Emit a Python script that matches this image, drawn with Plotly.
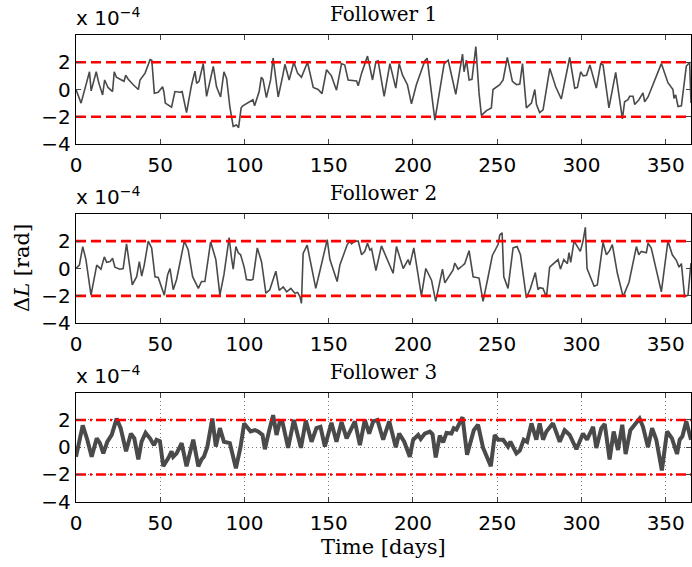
import plotly.graph_objects as go

# Follower 1 (values in units of 1e-4 rad)
f1_days = [0, 3, 8, 9, 12, 13.6, 15.8, 17, 19, 21.7, 22.7, 24, 27, 28.5, 29.5, 31, 34, 37, 38, 41, 44, 45,
           46.5, 48.8, 51.4, 52.2, 53, 56.7, 58.7, 61.7, 63, 65.6, 68.6, 70.6, 71.6, 73, 75.5, 77.5, 81.5,
           83.4, 85.8, 87.8, 89.4, 91.3, 93.3, 95.3, 96.5, 98, 99, 102, 105, 106, 108.7, 110, 111, 113,
           115.5, 117, 120, 122.6, 124, 126.5, 129.3, 131.5, 133.8, 137.4, 140.8, 143.7, 146, 148.7, 151.6,
           154.6, 157.6, 159.5, 161.5, 166.5, 167.5, 169.5, 173, 176, 178, 179.3, 182.9, 186.3, 189.8,
           191.8, 193.8, 196.7, 199.1, 202, 203, 204, 207, 208.4, 213, 215.3, 218.5, 220.9, 225.4, 229.4,
           230.3, 231.7, 233.3, 235, 237.3, 239.2, 240.6, 243.6, 246.5, 247.5, 251.5, 253.5, 256, 259,
           261.4, 263.4, 265, 267.3, 270.3, 272.3, 273.3, 275.2, 277.2, 281.2, 284.7, 288, 293, 296, 297.6,
           299.5, 301, 303, 305, 308.8, 311.4, 312.8, 316.3, 320.3, 324.3, 325.6, 326.6, 327.6, 328.6,
           330.6, 331.6, 334.1, 336.5, 337.5, 339.5, 343.4, 347.4, 351.3, 354.3, 354.9, 355.9, 357.3,
           359.3, 362.2, 364.2, 365]
f1_vals = [0, -1.0, 1.3, -0.1, 1.3, 0.45, -0.4, 0.7, 0.15, -0.15, 1.3, 0.9, 0.7, 0.6, 1.05, 0.75, 0.35, 0.0,
           0.7, 1.2, 2.2, 2.15, -0.27, -0.2, 0.2, -0.2, -1.0, -1.3, -0.15, -0.2, -0.15, -1.7, 0.35, 1.35,
           0.45, 0.6, 1.9, -0.5, 1.7, 0.2, -0.55, 1.3, 0.8, -1.25, -2.7, -2.6, -2.8, -1.35, -1.2, -1.0,
           -0.75, -1.2, -0.15, 0.9, 0.75, -0.6, 0.7, 2.3, -0.55, 0.95, 1.85, 0.7, 2.0, 1.2, 0.9, 2.0, 0.15,
           0.0, -0.3, 1.45, 1.0, -0.05, 1.9, 1.8, 0.7, 0.63, 0.27, 1.2, 2.45, 0.7, 2.05, 2.1, -0.5, 1.9,
           0.1, 1.9, 1.05, 0.35, -1.05, 0.35, 0.7, 1.0, 2.1, 2.3, -2.25, -0.5, 1.9, 2.15, -0.35, 2.6, 1.3,
           2.15, 0.7, 0.75, 3.15, -0.25, -1.9, -1.55, -1.35, 0.0, 0.35, 0.7, 2.35, 0.6, 0.35, 0.4, 1.9,
           -1.35, -1.0, 0.0, -1.1, -1.7, -1.5, 1.55, 0.2, -0.7, 2.35, 0.1, 0.15, 1.3, 1.0, 1.05, 1.8, 0.1,
           1.9, 1.8, -1.35, 1.25, -2.15, -0.9, -0.8, -0.75, -0.5, -0.5, -1.1, -0.75, -0.25, -0.9, -0.55,
           0.6, 1.9, 0.5, 0.0, -0.65, -0.4, -1.25, -1.2, 1.7, 2.0, -1.0]

# Follower 2
f2_days = [0, 2, 4, 5.9, 8.9, 12.3, 14.8, 16.8, 18.2, 20.2, 21.7, 23.1, 26, 28, 30, 33.4, 36, 37.6, 39,
           40.5, 42.9, 44.9, 46.9, 48.8, 52.4, 54.4, 55.8, 57.7, 59.7, 64.3, 66.6, 69.2, 72.6, 74.5, 76.5,
           79.9, 83, 85.4, 87.8, 90.9, 92.3, 93.3, 94.9, 96.3, 97.7, 99.8, 101.2, 103.6, 105, 107.6, 110.1,
           112.7, 115, 118.6, 120.6, 123, 125, 127.5, 129.9, 131.5, 132.9, 133.8, 134.8, 137.2, 139.8,
           142.3, 145.1, 149.1, 150.7, 155, 156.6, 158.6, 161, 162.5, 163.5, 165.5, 167.5, 169.5, 171.4,
           173, 174.4, 175.4, 178, 181.3, 184.3, 188.2, 190.2, 192.8, 194.2, 197.1, 198.1, 200.5, 205,
           207.6, 211, 213.5, 217.5, 218.9, 220.9, 223.8, 224.8, 226.8, 229.3, 230.7, 233.3, 235.7, 239.2,
           241.6, 244.6, 247.1, 250.5, 251.5, 252.9, 253.9, 256.4, 259.4, 261.8, 263.8, 267.3, 269.7,
           272.6, 274.2, 275.2, 277.2, 279.2, 281.1, 286.1, 287.5, 289.5, 291.6, 292.6, 293.6, 295.6, 298,
           299.3, 300.9, 302.3, 303.3, 305.3, 307.5, 309.4, 312.8, 314.8, 316.7, 318.3, 321.3, 324.7,
           328.2, 332.6, 334, 335.5, 338.5, 339.5, 341.4, 344.4, 347.4, 351.3, 353.9, 356.3, 357.9, 359.3,
           361.2, 363.2, 365]
f2_vals = [0, 0.25, 1.6, 0.65, -1.95, 0.25, -0.05, 0.85, 0.45, 0.5, 0.75, 0.1, -0.05, 0.0, 1.8, -1.2, -0.6,
           0.5, -0.55, 0.25, 2.0, 1.5, -0.6, -0.65, -1.95, -0.45, 0.0, -1.55, -0.8, 2.0, 1.35, -0.6, -1.45,
           -0.95, -0.95, 1.95, 0.65, -1.95, -0.45, 2.25, 0.75, -0.05, 1.6, 1.15, 1.0, 0.1, -0.8, -0.85,
           -0.8, 1.5, 0.5, -1.8, -1.55, -0.2, -1.6, -1.35, -1.7, -1.45, -1.8, -1.75, -2.05, -2.55, 1.1, 1.7,
           0.1, -1.45, 0.0, 2.1, 0.65, -0.95, 0.25, 0.9, 1.75, 2.0, 1.8, 2.0, 2.0, 1.0, 1.25, 1.85, 1.35,
           1.45, -0.15, 1.65, 0.75, -0.35, 1.6, 0.45, 0.0, 0.65, 0.25, 1.5, -2.0, 0.0, -0.85, -2.4, -0.05,
           -1.05, -0.7, -0.1, 0.4, -0.05, 0.2, 0.35, 1.3, -0.6, -0.7, -2.4, -0.6, 0.95, 1.75, 2.45, 2.6,
           -0.6, -1.45, 1.5, 1.6, 1.0, -2.15, -1.45, -0.3, -1.55, -1.4, -1.45, -2.1, 0.1, 0.65, -0.05, 0.65,
           0.35, 1.15, 0.45, 2.0, 1.55, 1.25, 2.0, 3.0, 0.0, -0.6, -1.3, -1.2, 1.9, 1.0, 1.3, 1.75, -0.35,
           -2.05, -1.0, 1.6, 1.0, 1.25, 1.15, 1.85, 1.5, -0.1, -1.7, 2.0, 1.0, 0.6, 0.1, 0.35, -2.05, -1.95,
           0.4]

# Follower 3
f3_days = [0, 4, 6.7, 9.3, 12.3, 14.2, 16.2, 18.6, 21.2, 24.1, 26.5, 29.7, 32.6, 34.6, 37, 38.9, 41.3,
           43.9, 46.3, 47.8, 49.8, 51.8, 54.8, 56.7, 57.7, 59.7, 62.7, 65.6, 69.6, 72.6, 74.5, 75.9, 77.9,
           80.9, 83, 85.4, 87.8, 91.3, 94.9, 97.7, 99.8, 102.2, 103.6, 106.2, 108.1, 110.7, 112.1, 114.7,
           117, 119, 121, 122.6, 125.9, 129.3, 131.9, 133.5, 136.4, 139.8, 142.7, 145.1, 147.7, 151.6,
           154.6, 157.6, 160.6, 163.5, 165.5, 168.5, 171.4, 174, 176.4, 178.9, 182.3, 185.9, 189.8, 191.8,
           194.8, 198.1, 200.1, 203.1, 204.6, 207, 210, 211.6, 213.5, 215.9, 217.9, 219.9, 222.8, 224.2,
           225.8, 229.4, 232.1, 236.1, 238.6, 241.6, 246.2, 248.5, 250.5, 253.5, 256.4, 257.8, 259.4,
           261.4, 263.4, 265.7, 267.7, 270.3, 273.2, 275.2, 277.2, 279.2, 283.1, 287.1, 290, 293, 297,
           300.9, 303.3, 306.9, 308.8, 311.8, 313.8, 316.7, 319.1, 321.7, 324.2, 326.2, 329, 331.6, 334.5,
           336.5, 339.5, 341.9, 344.4, 347.7, 350.8, 353.7, 356.7, 358.3, 359.9, 362.2, 365]
f3_vals = [-0.7, 1.6, 0.55, -0.7, 0.65, 0.3, -0.45, 0.4, 0.9, 2.1, 1.4, -0.3, 1.0, 0.65, -0.9, 0.4, 1.05,
           0.65, 0.15, 0.55, 0.45, -1.4, -0.8, -0.3, -0.7, -0.45, 0.3, -1.4, 0.55, -1.4, -0.9, -0.7, 0.0,
           2.1, 0.05, 1.4, 0.4, 0.3, -1.55, 0.05, 1.75, 1.4, 1.15, 1.25, 1.15, 0.9, -0.15, 1.25, 2.35, 0.9,
           1.9, 1.8, -0.05, 2.0, 0.8, -0.05, 1.95, 0.4, 1.4, 1.5, 0.05, 1.8, 0.4, 1.85, 0.65, 1.4, 1.9,
           0.15, 2.0, 1.0, 1.9, 2.0, 0.55, 1.9, 0.0, 1.0, 0.4, -0.7, 0.55, 0.9, 0.6, 1.0, 1.15, 0.95,
           -0.75, 0.85, 0.35, 1.05, 1.0, 1.4, 1.3, 2.2, -0.55, 1.25, 1.65, -0.05, -1.4, 0.9, 0.55, 0.55,
           0.05, 0.4, -0.05, -0.45, -0.25, 0.55, 0.4, 1.75, 0.55, 1.75, 0.55, 1.15, 1.75, 0.4, 1.25, 0.9,
           -0.15, 1.0, 0.55, 1.5, -0.05, 1.4, 1.7, -0.9, 1.15, -0.2, 1.65, -0.5, 1.25, 1.65, 2.1, 1.5, 0.0,
           1.4, 0.55, -1.7, 1.15, 0.65, -0.5, 0.55, 0.8, 1.9, 0.55]

titles = ["Follower 1", "Follower 2", "Follower 3"]
x_ticks = [0, 50, 100, 150, 200, 250, 300, 350]
y_ticks = [-4, -2, 0, 2]
y_ticktext = ["\u22124", "\u22122", "0", "2"]
bound = 2
x_max = 365

W, H = 692, 567
left, right = 76 / W, 691 / W
rows_px = [(35, 144), (213.7, 323.3), (392.7, 501.7)]
domains = [[1 - b / H, 1 - t / H] for t, b in rows_px]

series = [(f1_days, f1_vals, 1.6), (f2_days, f2_vals, 1.6), (f3_days, f3_vals, 4.0)]
line_col = "#4a4a4a"
tick_font = dict(family="DejaVu Sans", size=20, color="black")
serif = "DejaVu Serif"

fig = go.Figure()
for i, (xs, ys, lw) in enumerate(series):
    n = "" if i == 0 else str(i + 1)
    xa, ya = "x" + n, "y" + n
    fig.add_trace(go.Scatter(x=xs, y=ys, mode="lines", line=dict(color=line_col, width=lw),
                             xaxis=xa, yaxis=ya, showlegend=False))
    dash = "10px,5px" if i < 2 else "10px,4px,2px,4px"
    for b in (bound, -bound):
        fig.add_trace(go.Scatter(x=[0, x_max], y=[b, b], mode="lines",
                                 line=dict(color="#ff0000", width=2.6, dash=dash),
                                 xaxis=xa, yaxis=ya, showlegend=False))
    grid = i == 2
    fig.update_layout(**{
        "xaxis" + n: dict(domain=[left, right], range=[0, x_max], tickvals=x_ticks,
                          ticks="inside", ticklen=5, tickcolor="#444", mirror="ticks",
                          showline=True, linecolor="black", linewidth=1.3,
                          showgrid=grid, gridcolor="#777", griddash="1px,3px", gridwidth=1,
                          zeroline=False, tickfont=tick_font, anchor=ya, automargin=False,
                          ticklabelstandoff=3),
        "yaxis" + n: dict(domain=domains[i], range=[-4, 4], tickvals=y_ticks, ticktext=y_ticktext,
                          ticks="inside", ticklen=5, tickcolor="#444", mirror="ticks",
                          showline=True, linecolor="black", linewidth=1.3,
                          showgrid=grid, gridcolor="#777", griddash="1px,3px", gridwidth=1,
                          zeroline=False, tickfont=tick_font, anchor=xa, automargin=False),
    })
    top_px = rows_px[i][0]
    fig.add_annotation(x=(left + right) / 2, y=1 - (top_px - 21) / H, xref="paper", yref="paper",
                       text=titles[i], showarrow=False, font=dict(family=serif, size=20, color="black"),
                       xanchor="center", yanchor="middle")
    fig.add_annotation(x=74 / W, y=1 - (top_px - 3) / H, xref="paper", yref="paper",
                       text="x 10<sup>\u22124</sup>", showarrow=False,
                       font=dict(family="DejaVu Sans", size=20, color="black"),
                       xanchor="left", yanchor="bottom")

fig.add_annotation(x=(left + right) / 2, y=1 - 547 / H, xref="paper", yref="paper",
                   text="Time [days]", showarrow=False, font=dict(family=serif, size=21, color="black"),
                   xanchor="center", yanchor="middle")
fig.add_annotation(x=22 / W, y=1 - 268 / H, xref="paper", yref="paper",
                   text="\u0394<i>L</i> [rad]", showarrow=False, textangle=-90,
                   font=dict(family=serif, size=21, color="black"),
                   xanchor="center", yanchor="middle")

fig.update_layout(width=W, height=H, margin=dict(l=0, r=0, t=0, b=0),
                  paper_bgcolor="white", plot_bgcolor="white")
fig.write_html("out.html", config={"displayModeBar": False},
               post_script="document.body.style.margin='0';document.body.style.padding='0';"
                           "document.body.style.overflow='hidden';")
